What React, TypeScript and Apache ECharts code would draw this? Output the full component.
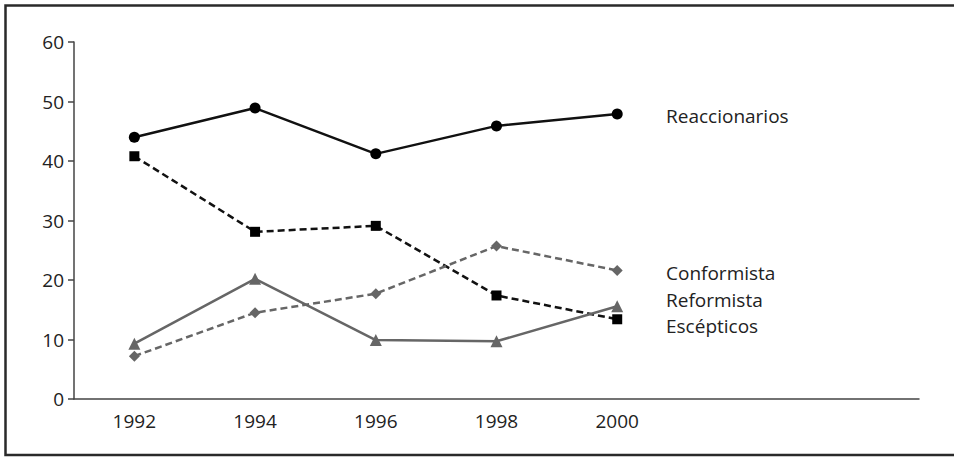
import React, { useEffect, useRef } from "react";
import * as echarts from "echarts";

const categories = ["1992", "1994", "1996", "1998", "2000", "", ""];
const reaccionarios = [44, 48.9, 41.2, 45.9, 47.9];
const escepticos = [40.8, 28.1, 29.1, 17.4, 13.4];
const conformista = [7.2, 14.5, 17.7, 25.7, 21.6];
const reformista = [9.3, 20.2, 9.9, 9.7, 15.6];
const seriesNames = ["Reaccionarios", "Conformista", "Reformista", "Escépticos"];
const yTicks = { min: 0, max: 60, interval: 10 };

const FONT = "'Open Sans'";
const BLACK = "#111";
const GRAY = "#666";

export default function App() {
  const ref = useRef<HTMLDivElement>(null);
  useEffect(() => {
    if (!ref.current) return;
    const chart = echarts.init(ref.current, undefined, { renderer: "svg" });
    const labelY = [115.7, 273.3, 300, 326];
    chart.setOption({
      animation: false,
      backgroundColor: "#fff",
      textStyle: { fontFamily: FONT },
      grid: { left: 74, right: 35, top: 42, bottom: 58, containLabel: false },
      xAxis: {
        type: "category",
        data: categories,
        boundaryGap: true,
        axisLine: { lineStyle: { color: "#444", width: 1.5 } },
        axisTick: {
          length: 7,
          lineStyle: { color: "#444", width: 1.5 },
          interval: (index: number) => index <= 5,
        },
        axisLabel: { fontSize: 19, color: "#222", margin: 12, fontFamily: FONT },
        splitLine: { show: false },
      },
      yAxis: {
        type: "value",
        min: yTicks.min,
        max: yTicks.max,
        interval: yTicks.interval,
        axisLine: { show: true, lineStyle: { color: "#444", width: 1.5 } },
        axisTick: { show: true, length: 6, lineStyle: { color: "#444", width: 1.5 } },
        axisLabel: { fontSize: 19, color: "#222", margin: 10, fontFamily: FONT },
        splitLine: { show: false },
      },
      graphic: [
        {
          type: "rect",
          shape: { x: 5.5, y: 5.5, width: 1000, height: 449.5 },
          style: { fill: "none", stroke: "#2a2a2a", lineWidth: 2.5 },
          silent: true,
        },
        ...seriesNames.map((n, i) => ({
          type: "text",
          x: 666,
          y: labelY[i],
          style: {
            text: n,
            fontSize: 19,
            lineHeight: 19,
            fill: "#222",
            fontFamily: FONT,
            verticalAlign: "middle",
            align: "left",
          },
          silent: true,
        })),
      ],
      series: [
        {
          name: "Reaccionarios",
          type: "line",
          data: reaccionarios,
          symbol: "circle",
          symbolSize: 11,
          lineStyle: { color: BLACK, width: 2.5 },
          itemStyle: { color: "#000" },
        },
        {
          name: "Escépticos",
          type: "line",
          data: escepticos,
          symbol: "rect",
          symbolSize: 10,
          lineStyle: { color: BLACK, width: 2.5, type: [7, 4] },
          itemStyle: { color: "#000" },
        },
        {
          name: "Conformista",
          type: "line",
          data: conformista,
          symbol: "diamond",
          symbolSize: 11,
          lineStyle: { color: GRAY, width: 2.5, type: [7, 4] },
          itemStyle: { color: GRAY },
        },
        {
          name: "Reformista",
          type: "line",
          data: reformista,
          symbol: "triangle",
          symbolSize: 12,
          lineStyle: { color: GRAY, width: 2.5 },
          itemStyle: { color: GRAY },
        },
      ],
    });
    return () => chart.dispose();
  }, []);
  return (
    <div
      ref={ref}
      style={{ position: "fixed", left: 0, top: 0, width: 954, height: 457 }}
    />
  );
}
